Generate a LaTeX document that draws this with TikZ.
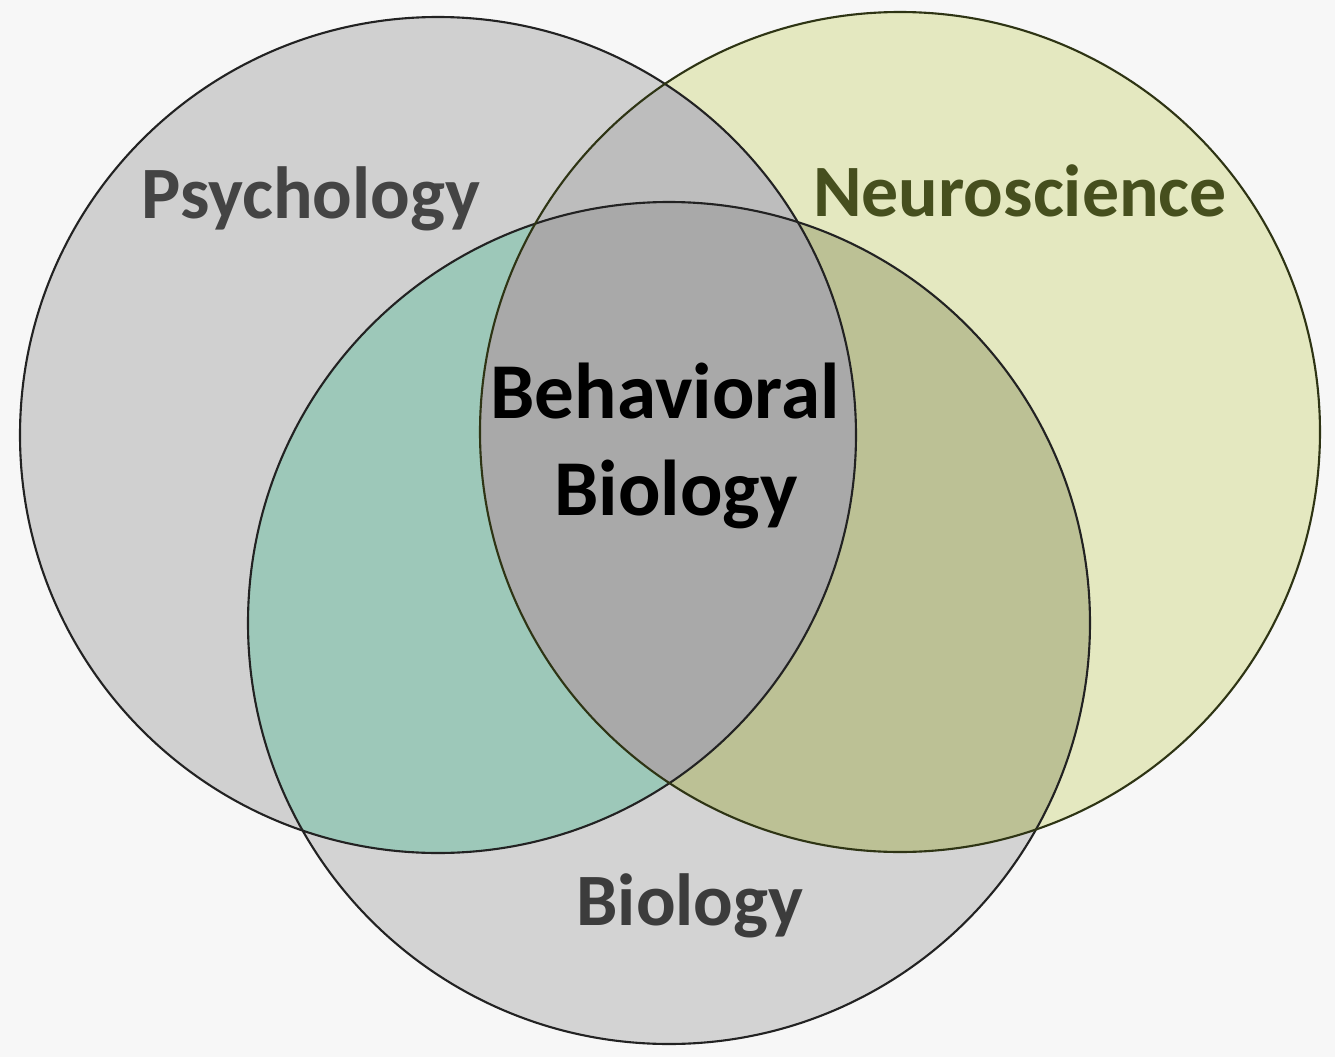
\documentclass[tikz,border=0pt]{standalone}
\usepackage{fontspec}
\setmainfont{Carlito}
\definecolor{paper}{HTML}{F7F7F7}
\definecolor{psyfill}{HTML}{D0D0D0}
\definecolor{neufill}{HTML}{E4E8C0}
\definecolor{biofill}{HTML}{D3D3D3}
\definecolor{psyneu}{HTML}{BDBDBD}
\definecolor{psybio}{HTML}{9DC8B9}
\definecolor{neubio}{HTML}{BCC195}
\definecolor{allthree}{HTML}{A9A9A9}
\definecolor{ringgray}{HTML}{222222}
\definecolor{ringolive}{HTML}{2E3414}
\definecolor{psytext}{HTML}{444444}
\definecolor{neutext}{HTML}{464F1E}
\definecolor{biotext}{HTML}{3C3C3C}
\begin{document}
\begin{tikzpicture}[x=0.01cm,y=-0.01cm,
  ring/.style={line width=0.6pt},
  setlabel/.style={font=\fontsize{21}{25}\selectfont\bfseries, anchor=base, inner sep=0pt},
  corelabel/.style={font=\fontsize{22.5}{27}\selectfont\bfseries, anchor=base, inner sep=0pt, text=black}]
% canvas
\useasboundingbox (0,0) rectangle (1335,1057);
\fill[paper] (0,0) rectangle (1335,1057);

% circle centres
\coordinate (P) at (438,435);
\coordinate (N) at (900,432);
\coordinate (B) at (669,623);
\def\rP{418}
\def\rN{420}
\def\rB{421}

% single-set fills
\fill[psyfill] (P) circle[radius=\rP];
\fill[neufill] (N) circle[radius=\rN];
\fill[biofill] (B) circle[radius=\rB];

% pairwise overlaps
\begin{scope}
  \clip (P) circle[radius=\rP];
  \fill[psyneu] (N) circle[radius=\rN];
  \fill[psybio] (B) circle[radius=\rB];
\end{scope}
\begin{scope}
  \clip (N) circle[radius=\rN];
  \fill[neubio] (B) circle[radius=\rB];
\end{scope}

% triple overlap
\begin{scope}
  \clip (P) circle[radius=\rP];
  \clip (N) circle[radius=\rN];
  \fill[allthree] (B) circle[radius=\rB];
\end{scope}

% outlines
\draw[ring, ringgray] (P) circle[radius=\rP];
\draw[ring, ringgray] (B) circle[radius=\rB];
\draw[ring, ringolive] (N) circle[radius=\rN];

% labels
\node[setlabel, text=psytext] (psy) at (311,218) {Psychology};
\node[setlabel, text=neutext] (neu) at (1020,216) {Neuroscience};
\node[corelabel] (beh) at (665,418) {Behavioral};
\node[corelabel] (behbio) at (676,515) {Biology};
\node[setlabel, text=biotext] (bio) at (690,925) {Biology};
\end{tikzpicture}
\end{document}
